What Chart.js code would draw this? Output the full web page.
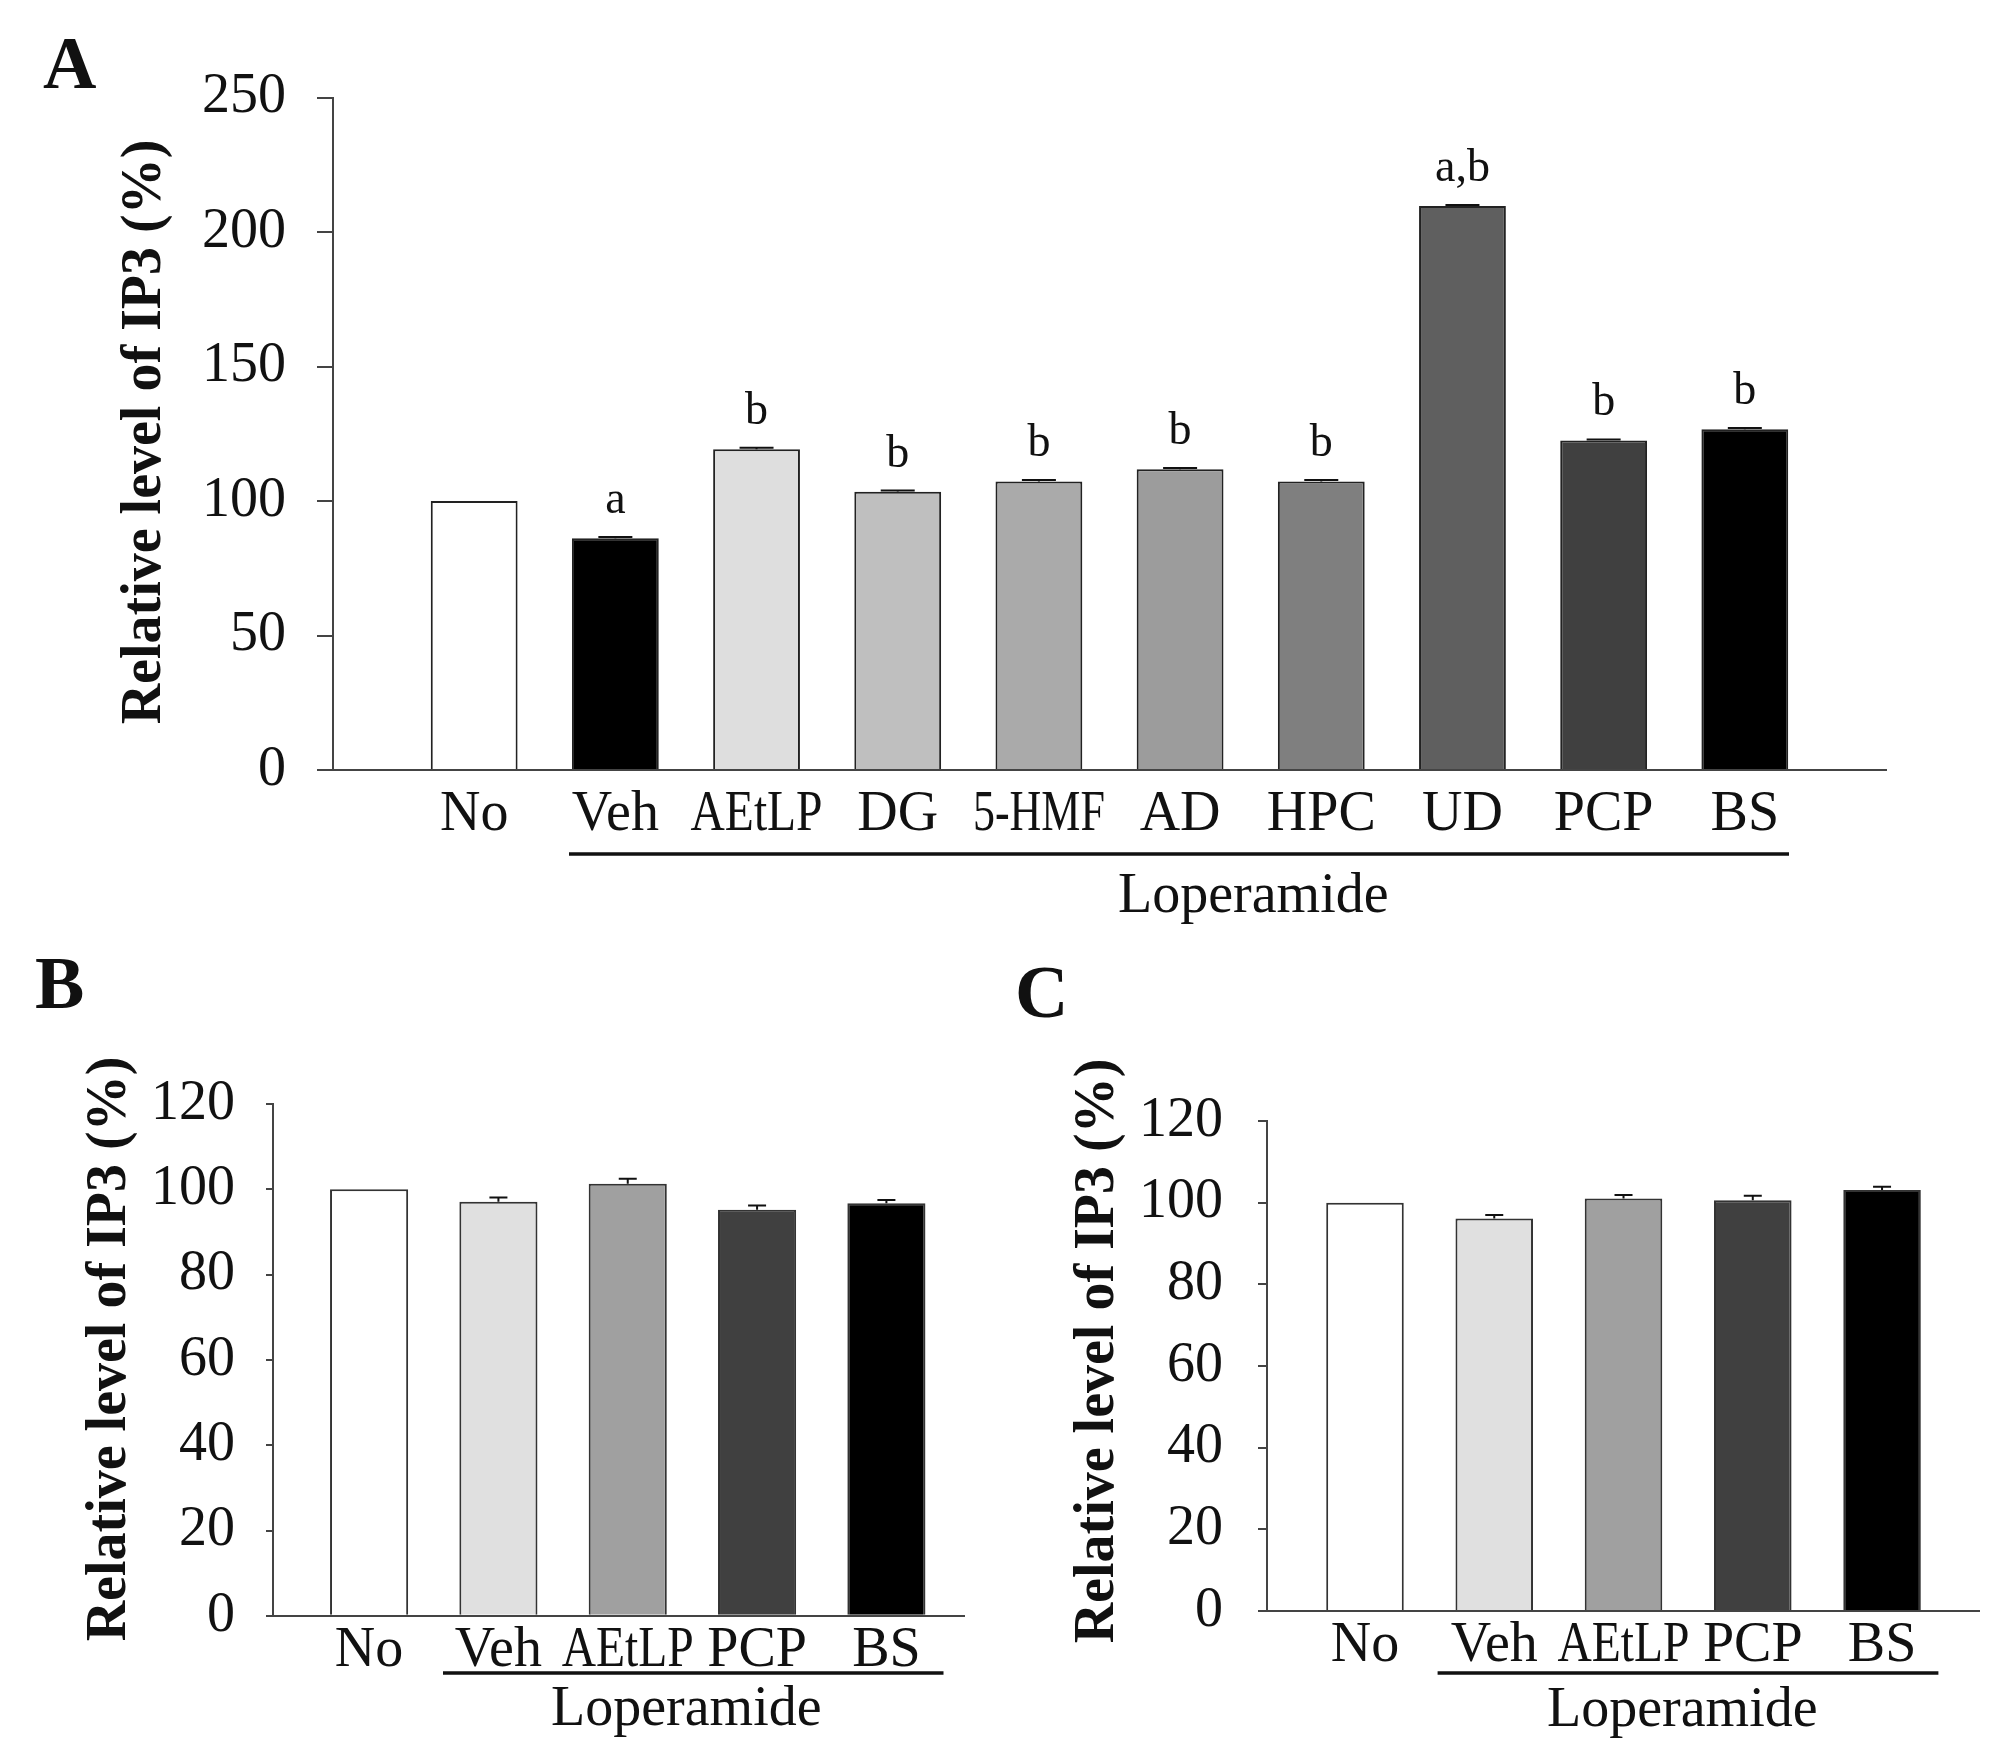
<!DOCTYPE html>
<html><head><meta charset="utf-8">
<script src="https://cdn.jsdelivr.net/npm/chart.js@4.4.1/dist/chart.umd.min.js"></script>
<style>
html,body{margin:0;padding:0;background:#fff;width:2008px;height:1759px;overflow:hidden}
canvas{position:absolute}
#ca{left:0;top:0}
#cb{left:0;top:940px}
#cc{left:1004px;top:940px}
.pre{font-family:"Liberation Serif";position:absolute;left:-9999px}
</style></head><body>
<span class="pre">x</span><span class="pre" style="font-weight:bold">x</span>
<canvas id="ca" width="2008" height="940" style="width:2008px;height:940px"></canvas>
<canvas id="cb" width="1004" height="819" style="width:1004px;height:819px"></canvas>
<canvas id="cc" width="1004" height="819" style="width:1004px;height:819px"></canvas>
<script>
// ---------- data ----------
const catsA = ['No','Veh','AEtLP','DG','5-HMF','AD','HPC','UD','PCP','BS'];
const valsA = [100, 86.2, 119.3, 103.5, 107.3, 111.8, 107.3, 209.7, 122.5, 126.7];
const errsA = [0, 0.4, 0.5, 0.4, 0.5, 0.5, 0.5, 0.4, 0.4, 0.5];
const sigA  = ['', 'a', 'b', 'b', 'b', 'b', 'b', 'a,b', 'b', 'b'];
const colorsA = ['#ffffff','#000000','#dedede','#bfbfbf','#aaaaaa','#9c9c9c','#7f7f7f','#5f5f5f','#404040','#000000'];
const yTicksA = [0, 50, 100, 150, 200, 250];

const catsBC = ['No','Veh','AEtLP','PCP','BS'];
const valsB = [100, 97.1, 101.3, 95.2, 96.7];
const errsB = [0, 1.0, 1.2, 1.0, 0.8];
const valsC = [100, 96.1, 101.0, 100.6, 103.1];
const errsC = [0, 0.9, 0.9, 1.1, 0.8];
const colorsBC = ['#ffffff','#e0e0e0','#a0a0a0','#404040','#000000'];
const yTicksBC = [0, 20, 40, 60, 80, 100, 120];

const yTitle = 'Relative level of IP3 (%)';
const groupLabel = 'Loperamide';
const FONT = '"Liberation Serif"';

// linear scale whose tick labels are condensed when wider than a limit
class SqueezeLinear extends Chart.LinearScale {
  _computeLabelItems(chartArea) {
    const items = super._computeLabelItems(chartArea);
    const mw = this.options.squeezeWidth;
    if (mw) items.forEach(it => { it.options.maxWidth = mw; });
    return items;
  }
}
SqueezeLinear.id = 'squeezeLinear';
SqueezeLinear.defaults = Chart.LinearScale.defaults;
Chart.register(SqueezeLinear);

function makePanel(id, o) {
  const pts = o.cats.map((c, i) => ({x: i + 1, y: o.vals[i]}));
  const deco = {
    id: 'deco_' + id,
    afterDatasetsDraw(chart) {
      const ctx = chart.ctx, xs = chart.scales.x, ys = chart.scales.y;
      ctx.save();
      ctx.strokeStyle = '#111'; ctx.lineWidth = 2;
      o.vals.forEach((v, i) => {
        const e = o.errs[i]; if (!e) return;
        const px = xs.getPixelForValue(i + 1);
        const y0 = ys.getPixelForValue(v), y1 = ys.getPixelForValue(v + e);
        ctx.beginPath();
        ctx.moveTo(px, y0); ctx.lineTo(px, y1);
        ctx.moveTo(px - o.capW / 2, y1); ctx.lineTo(px + o.capW / 2, y1);
        ctx.stroke();
      });
      if (o.sig) {
        ctx.fillStyle = '#111';
        ctx.font = '46px ' + FONT;
        ctx.textAlign = 'center'; ctx.textBaseline = 'alphabetic';
        o.sig.forEach((s, i) => {
          if (!s) return;
          const px = xs.getPixelForValue(i + 1);
          const py = ys.getPixelForValue(o.vals[i] + o.errs[i]);
          ctx.fillText(s, px, py - 24);
        });
      }
      ctx.restore();
    },
    afterDraw(chart) {
      const ctx = chart.ctx;
      ctx.save();
      ctx.fillStyle = '#111';
      ctx.font = 'bold 74px ' + FONT;
      ctx.textAlign = 'left'; ctx.textBaseline = 'alphabetic';
      ctx.fillText(o.letter, o.letterX, o.letterY);
      ctx.save();
      ctx.translate(o.titleX, o.titleY); ctx.rotate(-Math.PI / 2);
      ctx.font = 'bold 56px ' + FONT;
      ctx.textAlign = 'center'; ctx.textBaseline = 'middle';
      ctx.fillText(yTitle, 0, 0);
      ctx.restore();
      ctx.strokeStyle = '#111'; ctx.lineWidth = 3.5;
      ctx.beginPath(); ctx.moveTo(o.lineX1, o.lineY); ctx.lineTo(o.lineX2, o.lineY); ctx.stroke();
      ctx.font = '56px ' + FONT;
      ctx.textAlign = 'left'; ctx.textBaseline = 'alphabetic';
      ctx.fillText(groupLabel, o.groupX, o.groupY);
      ctx.restore();
    }
  };
  const cv = document.getElementById(id);
  new Chart(cv, {
    type: 'bar',
    data: {datasets: [{data: pts, backgroundColor: o.colors, borderColor: o.border, borderWidth: o.bw,
                       barPercentage: o.barPct, categoryPercentage: 1}]},
    options: {
      responsive: false, animation: false, devicePixelRatio: 1,
      layout: {padding: {left: 0, top: o.area.top, right: o.W - o.area.right, bottom: o.H - o.area.bottom - o.xH}},
      plugins: {legend: {display: false}, tooltip: {enabled: false}},
      scales: {
        x: {type: 'squeezeLinear', min: o.xMin, max: o.xMax, offset: false, squeezeWidth: 132,
            grid: {display: false, drawTicks: false},
            border: {display: true, color: '#444', width: 2},
            afterBuildTicks: s => { s.ticks = o.cats.map((c, i) => ({value: i + 1})); },
            afterFit: s => { s.height = o.xH; },
            ticks: {autoSkip: false, maxRotation: 0, minRotation: 0, padding: o.xPad, color: '#111',
                    font: {family: FONT, size: 56}, callback: (v, i) => o.cats[i]}},
        y: {min: 0, max: o.yMax,
            afterBuildTicks: s => { s.ticks = o.yTicks.map(v => ({value: v})); },
            afterFit: s => { s.width = o.area.left; },
            grid: {drawOnChartArea: false, drawTicks: true, tickLength: o.tickLen, color: '#444', lineWidth: 2},
            border: {display: true, color: '#444', width: 2},
            ticks: {padding: o.yPad, color: '#111', font: {family: FONT, size: 56}}}
      }
    },
    plugins: [deco]
  });
}

function drawAll() {
  makePanel('ca', {
    cats: catsA, vals: valsA, errs: errsA, sig: sigA, colors: colorsA, yTicks: yTicksA, yMax: 250,
    border: '#222', bw: 2, barPct: 0.615, capW: 34,
    W: 2008, H: 940, area: {left: 333, right: 1886, top: 97.7, bottom: 770}, xH: 100,
    xMin: 0, xMax: 11, xPad: 12, tickLen: 16, yPad: 31,
    letter: 'A', letterX: 43, letterY: 88,
    titleX: 146, titleY: 432,
    lineX1: 569, lineX2: 1789, lineY: 854, groupX: 1118, groupY: 912
  });
  makePanel('cb', {
    cats: catsBC, vals: valsB, errs: errsB, sig: null, colors: colorsBC, yTicks: yTicksBC, yMax: 120,
    border: '#333', bw: 2, barPct: 0.604, capW: 18,
    W: 1004, H: 819, area: {left: 273, right: 964, top: 164, bottom: 675.8}, xH: 100,
    xMin: 0.257, xMax: 5.60, xPad: 2, tickLen: 7, yPad: 31,
    letter: 'B', letterX: 35, letterY: 68,
    titleX: 111, titleY: 409,
    lineX1: 443, lineX2: 943.5, lineY: 733, groupX: 551, groupY: 785
  });
  makePanel('cc', {
    cats: catsBC, vals: valsC, errs: errsC, sig: null, colors: colorsBC, yTicks: yTicksBC, yMax: 120,
    border: '#333', bw: 2, barPct: 0.60, capW: 18,
    W: 1004, H: 819, area: {left: 263, right: 975, top: 181, bottom: 671}, xH: 100,
    xMin: 0.242, xMax: 5.75, xPad: 2, tickLen: 9, yPad: 35,
    letter: 'C', letterX: 11, letterY: 77,
    titleX: 95, titleY: 411,
    lineX1: 433.6, lineX2: 934.4, lineY: 733, groupX: 543, groupY: 786
  });
}

Promise.all([
  document.fonts.load('56px "Liberation Serif"'),
  document.fonts.load('bold 56px "Liberation Serif"')
]).then(drawAll, drawAll);
</script>
</body></html>
